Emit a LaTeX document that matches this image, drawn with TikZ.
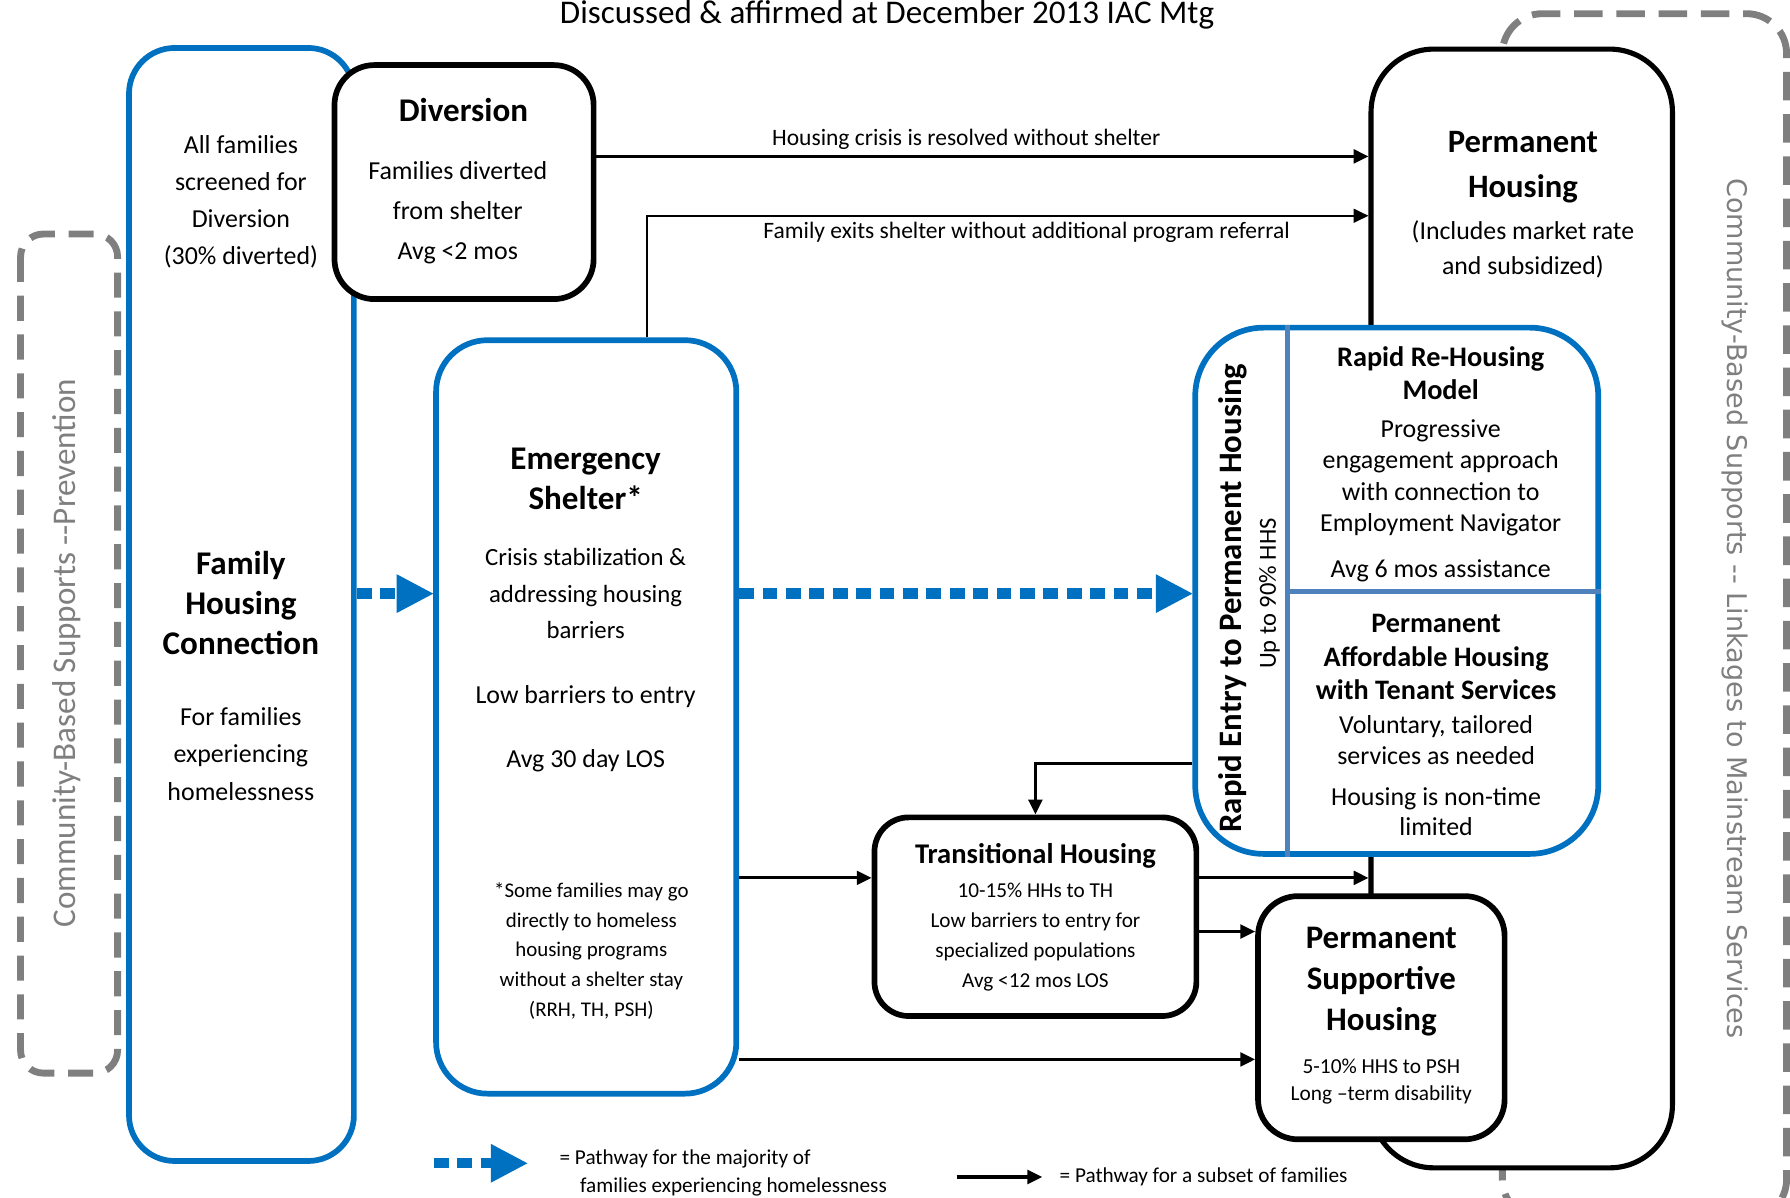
\documentclass[tikz,border=0pt]{standalone}
\usepackage{fontspec}
\setmainfont{Carlito}
\newfontfamily\widefont{DejaVu Sans}
\usetikzlibrary{arrows.meta,positioning}
\definecolor{hcblue}{HTML}{0070C0}
\definecolor{cellblue}{HTML}{4F81BD}
\definecolor{supgray}{HTML}{7F7F7F}

\begin{document}
\begin{tikzpicture}[x=1pt,y=-1pt,
  bluebox/.style={draw=hcblue,line width=5pt,rounded corners=40pt,fill=white},
  blackbox/.style={draw=black,line width=5pt,rounded corners=32pt,fill=white},
  graybox/.style={draw=supgray,line width=6pt,dash pattern=on 22pt off 12pt,rounded corners=20pt},
  divider/.style={draw=cellblue,line width=4pt},
  txt/.style={inner sep=0pt,align=center},
  body/.style={txt,font=\fontsize{22.7}{33}\selectfont},
  head/.style={txt,font=\fontsize{29}{35}\selectfont\bfseries},
  small/.style={txt,font=\fontsize{18.5}{26}\selectfont},
  subset/.style={draw,line width=2.8pt,-{Triangle[length=13pt,width=12pt]}},
  majority/.style={draw=hcblue,line width=9pt,dash pattern=on 13pt off 7.5pt,-{Triangle[length=32pt,width=34pt,line width=0pt]}}]

    \useasboundingbox (0,0) rectangle (1568,1049);

    % Support frames
    \draw[graybox] (18,205) rectangle (103,940);
    \draw[graybox,rounded corners=35pt,dash pattern=on 25pt off 12pt] (1316,12) rectangle (1565,1068);

    % The boxes
    \node [bluebox,minimum width=197,minimum height=975] at (211.5,529.5) (fhc) {};
    \node [blackbox,minimum width=227,minimum height=205,rounded corners=35pt] at (406.5,159.5) (div) {};
    \node [blackbox,minimum width=264,minimum height=980,rounded corners=55pt,line width=4.5pt] at (1333,533) (ph) {};
    \node [bluebox,minimum width=263,minimum height=660,rounded corners=45pt] at (513.5,628) (es) {};
    \node [bluebox,minimum width=353,minimum height=461,rounded corners=60pt] at (1223.5,517.5) (rap) {};
    \node [blackbox,minimum width=282,minimum height=174,rounded corners=30pt] at (907,803) (th) {};
    \node [blackbox,minimum width=216,minimum height=213,rounded corners=35pt] at (1210,891.5) (psh) {};

    \coordinate (rsplit) at (1128,518);
    \draw[divider] (rap.north -| rsplit) -- (rap.south -| rsplit);
    \draw[divider] (rsplit) -- (rap.east |- rsplit);

    % Texts
    \node [txt,font=\fontsize{29}{35}\selectfont] at (777,13) (title) {Discussed \& affirmed at December 2013 IAC Mtg};

    \node [txt,rotate=90,text=supgray,font=\fontsize{29}{35}\selectfont] at (58,572) (prevtxt) {Community-Based Supports -{}-Prevention};
    \node [txt,rotate=-90,text=supgray,font=\widefont\fontsize{23.7}{28}\selectfont] at (1520,533) (linktxt) {Community-Based Supports -{}- Linkages to Mainstream Services};

    \node [body,font=\fontsize{22.7}{32.3}\selectfont] at (211,176.5) (fhcscreen) {All families\\screened for\\Diversion\\(30\% diverted)};
    \node [head] at (211,528) (fhchead) {Family\\Housing\\Connection};
    \node [body,font=\fontsize{22.7}{32.5}\selectfont] at (211,660.5) (fhcbody) {For families\\experiencing\\homelessness};

    \node [head] at (406,96) (divhead) {Diversion};
    \node [body,font=\fontsize{22.7}{35}\selectfont] at (401,186) (divbody) {Families diverted\\from shelter\\Avg <2 mos};

    \node [head] at (513,419.5) (eshead) {Emergency\\Shelter*};
    \node [body,font=\fontsize{21.7}{32}\selectfont] at (513,520) (esbody) {Crisis stabilization \&\\addressing housing\\barriers};
    \node [body] at (513,610) (esentry) {Low barriers to entry};
    \node [body] at (513,666) (eslos) {Avg 30 day LOS};
    \node [small,font=\fontsize{18.3}{26}\selectfont] at (518,833) (esnote) {*Some families may go\\directly to homeless\\housing programs\\without a shelter stay\\(RRH, TH, PSH)};

    \node [txt,font=\fontsize{28.6}{39}\selectfont\bfseries] at (1334,146.5) (phhead) {Permanent\\Housing};
    \node [body,font=\fontsize{22.6}{31}\selectfont] at (1334,218.5) (phbody) {(Includes market rate\\and subsidized)};

    \node [txt,rotate=90,font=\fontsize{28.7}{34}\selectfont\bfseries] at (1080,524) (raphead) {Rapid Entry to Permanent Housing};
    \node [txt,rotate=90,font=\fontsize{21.5}{26}\selectfont] at (1112,520) (rapshare) {Up to 90\% HHS};
    \node [txt,font=\fontsize{24.8}{29}\selectfont\bfseries] at (1262,326.5) (rrhhead) {Rapid Re-Housing\\Model};
    \node [txt,font=\fontsize{22.7}{27.7}\selectfont] at (1262,418.5) (rrhbody) {Progressive\\engagement approach\\with connection to\\Employment Navigator};
    \node [body] at (1262,500) (rrhavg) {Avg 6 mos assistance};
    \node [txt,font=\fontsize{24.7}{29.5}\selectfont\bfseries] at (1258,575.5) (pahhead) {Permanent\\Affordable Housing\\with Tenant Services};
    \node [txt,font=\fontsize{22.7}{27}\selectfont] at (1258,648.5) (pahbody) {Voluntary, tailored\\services as needed};
    \node [txt,font=\fontsize{22.7}{26}\selectfont] at (1258,711) (pahtime) {Housing is non-time\\limited};

    \node [txt,font=\fontsize{25}{30}\selectfont\bfseries] at (907,750) (thhead) {Transitional Housing};
    \node [small,font=\fontsize{18.6}{26.3}\selectfont] at (907,820.5) (thbody) {10-15\% HHs to TH\\Low barriers to entry for\\specialized populations\\Avg <12 mos LOS};

    \node [txt,font=\fontsize{28.8}{36}\selectfont\bfseries] at (1210,860) (pshhead) {Permanent\\Supportive\\Housing};
    \node [small,font=\fontsize{18.7}{23}\selectfont] at (1210,947.5) (pshbody) {5-10\% HHS to PSH\\Long –term disability};

    % Pathways
    \coordinate (crisis) at (0,137);
    \coordinate (exits) at (0,189);
    \coordinate (main) at (0,520);
    \coordinate (back) at (0,669);
    \coordinate (toth) at (0,769);
    \coordinate (topsh) at (0,816);
    \coordinate (direct) at (0,928);

    \draw[subset] (div.east |- crisis) -- (ph.west |- crisis)
        node[txt,pos=0.479,above=5pt,font=\fontsize{20.6}{24}\selectfont] {Housing crisis is resolved without shelter};
    \draw[subset,line width=2pt] ([xshift=53.5pt]es.north) |- (ph.west |- exits)
        node[txt,pos=0.763,below=5pt,font=\fontsize{20.6}{24}\selectfont] {Family exits shelter without additional program referral};
    \draw[majority] (fhc.east |- main) -- (es.west |- main);
    \draw[majority] (es.east |- main) -- (rap.west |- main);
    \draw[subset] (rap.west |- back) -| (th.north);
    \draw[subset] (es.east |- toth) -- (th.west |- toth);
    \draw[subset] (th.east |- toth) -- (ph.west |- toth);
    \draw[subset] (th.east |- topsh) -- (psh.west |- topsh);
    \draw[subset] (es.east |- direct) -- (psh.west |- direct);

    % Legend
    \coordinate (legA) at (380,1019);
    \coordinate (legB) at (462,1019);
    \coordinate (legC) at (838,1031);
    \coordinate (legD) at (913,1031);
    \draw[majority] (legA) -- (legB);
    \node [small,anchor=west,align=left,font=\fontsize{18.6}{25}\selectfont] at (490,1027.5) (legmaj) {= Pathway for the majority of\\\hspace*{18pt}families experiencing homelessness};
    \draw[subset] (legC) -- (legD);
    \node [small,anchor=west,font=\fontsize{18.6}{25}\selectfont] at (928,1031) (legsub) {= Pathway for a subset of families};
\end{tikzpicture}
\end{document}
